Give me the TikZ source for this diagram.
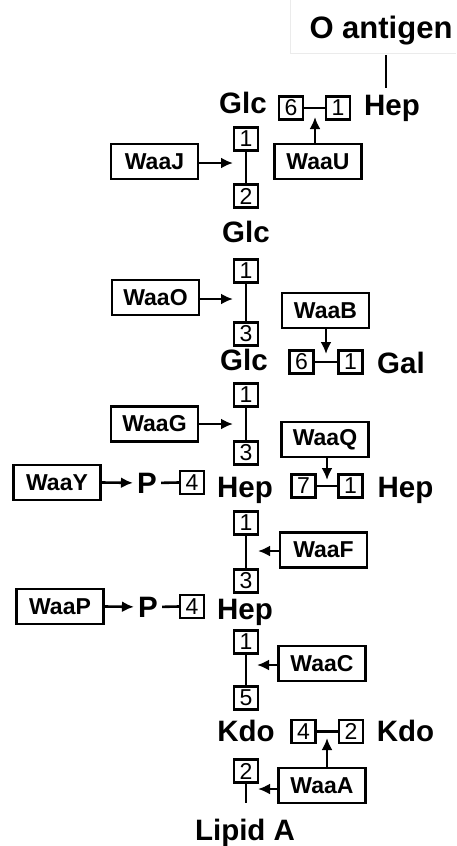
\documentclass[tikz,border=0pt]{standalone}
\usepackage{fontspec}
\setmainfont{Liberation Sans}
\usetikzlibrary{arrows.meta}
\begin{document}
\begin{tikzpicture}[x=1pt,y=-1pt,
 sugar/.style={font=\fontsize{29.5}{30}\selectfont\bfseries, inner sep=0pt, anchor=base},
 posbox/.style={draw, line width=2.2pt, minimum width=24pt, minimum height=23pt, inner sep=0pt, font=\fontsize{23}{23}\selectfont},
 enz/.style={draw, line width=2.2pt, minimum width=87pt, minimum height=35pt, inner sep=0pt, font=\fontsize{23}{23}\selectfont\bfseries},
 bond/.style={line width=2.6pt},
 act/.style={line width=2.6pt, -{Latex[length=12pt,width=11pt]}}
]
\useasboundingbox (0,0) rectangle (456,846);

% O antigen
\draw[black!8, line width=0.8pt] (290,0) -- (290,53) -- (456,53);
\node[font=\fontsize{31}{31}\selectfont\bfseries, inner sep=0pt, anchor=base] (oant) at (381,38) {O antigen};
\coordinate (oa1) at (386,55);
\coordinate (oa2) at (386,88);
\draw[bond] (oa1) -- (oa2);

% top row
\node[sugar] (glc1) at (243,113) {Glc};
\node[sugar] (hepT) at (392,115) {Hep};
\node[posbox] (t6) at (291,108) {6};
\node[posbox] (t1) at (338,108) {1};
\draw[bond] (t6) -- (t1);
\node[enz] (waaU) at (318,161.5) {WaaU};
\coordinate (tipU) at (315,117);
\draw[act] (waaU.north -| tipU) -- (tipU);

% WaaJ
\node[posbox] (j1) at (246,139) {1};
\node[posbox] (j2) at (246,196) {2};
\draw[bond] (j1) -- (j2);
\node[enz] (waaJ) at (154.5,161.5) {WaaJ};
\coordinate (tipJ) at (233,163);
\draw[act] (waaJ.east |- tipJ) -- (tipJ);

\node[sugar] (glc2) at (246,242) {Glc};

% WaaO
\node[posbox] (o1) at (246,271) {1};
\node[posbox] (o3) at (246,334) {3};
\draw[bond] (o1) -- (o3);
\node[enz] (waaO) at (155.5,297.5) {WaaO};
\coordinate (tipO) at (233,299);
\draw[act] (waaO.east |- tipO) -- (tipO);

\node[sugar] (glc3) at (244,370) {Glc};

% WaaB
\node[enz] (waaB) at (325.5,310.5) {WaaB};
\node[posbox] (b6) at (301.5,362) {6};
\node[posbox] (b1) at (350.5,362) {1};
\draw[bond] (b6) -- (b1);
\node[sugar] (gal) at (401,373) {Gal};
\coordinate (tipB) at (326,354);
\draw[act] (waaB.south -| tipB) -- (tipB);

% WaaG
\node[posbox] (g1) at (246,395) {1};
\node[posbox] (g3) at (246,453) {3};
\draw[bond] (g1) -- (g3);
\node[enz] (waaG) at (154.5,424) {WaaG};
\coordinate (tipG) at (233,424);
\draw[act] (waaG.east |- tipG) -- (tipG);

\node[sugar] (hep1) at (245,497) {Hep};

% WaaQ
\node[enz] (waaQ) at (325,439.5) {WaaQ};
\node[posbox] (q7) at (303.5,486) {7};
\node[posbox] (q1) at (350.5,486) {1};
\draw[bond] (q7) -- (q1);
\node[sugar] (hepR) at (405.5,497) {Hep};
\coordinate (tipQ) at (327,480);
\draw[act] (waaQ.south -| tipQ) -- (tipQ);

% WaaY
\node[enz] (waaY) at (57,482.5) {WaaY};
\node[sugar, inner xsep=4pt] (pY) at (147,493) {P};
\node[posbox] (y4) at (192,482.5) {4};
\draw[act] (waaY.east) -- (pY.west);
\draw[bond] (pY.east) -- (y4.west);

% WaaF
\node[posbox] (f1) at (246,523) {1};
\node[posbox] (f3) at (246,581) {3};
\draw[bond] (f1) -- (f3);
\node[enz] (waaF) at (323.5,550) {WaaF};
\coordinate (tipF) at (258,551);
\draw[act] (waaF.west |- tipF) -- (tipF);

\node[sugar] (hep2) at (245,619) {Hep};

% WaaP
\node[enz] (waaP) at (60,606.5) {WaaP};
\node[sugar, inner xsep=4pt] (pP) at (148,617) {P};
\node[posbox] (p4) at (192,606.5) {4};
\draw[act] (waaP.east) -- (pP.west);
\draw[bond] (pP.east) -- (p4.west);

% WaaC
\node[posbox] (c1) at (246,642) {1};
\node[posbox] (c5) at (246,698) {5};
\draw[bond] (c1) -- (c5);
\node[enz] (waaC) at (322,663.5) {WaaC};
\coordinate (tipC) at (257,665);
\draw[act] (waaC.west |- tipC) -- (tipC);

\node[sugar] (kdo1) at (246,741) {Kdo};

% Kdo-Kdo
\node[posbox] (a4) at (303.5,731.5) {4};
\node[posbox] (a2) at (351,731.5) {2};
\draw[bond] (a4) -- (a2);
\node[sugar] (kdo2) at (405.5,741) {Kdo};

% WaaA
\node[enz] (waaA) at (322,785.5) {WaaA};
\coordinate (tipA1) at (327,738);
\draw[act] (waaA.north -| tipA1) -- (tipA1);
\node[posbox] (l2) at (246,771) {2};
\coordinate (lA) at (246,803);
\draw[bond] (l2) -- (lA);
\coordinate (tipA2) at (258,789);
\draw[act] (waaA.west |- tipA2) -- (tipA2);

\node[sugar] (lipid) at (245,840) {Lipid A};
\end{tikzpicture}
\end{document}
